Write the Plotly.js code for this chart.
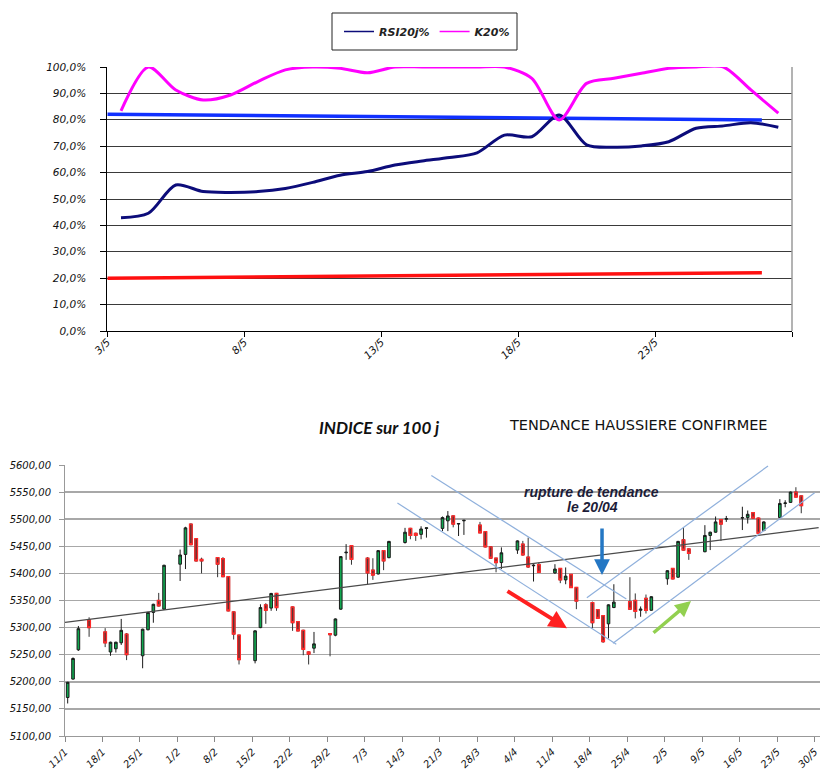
<!DOCTYPE html>
<html><head><meta charset="utf-8">
<script src="https://cdn.plot.ly/plotly-3.0.1.min.js"></script>
<style>html,body{margin:0;padding:0;background:#fff}#chart{width:820px;height:774px}</style>
</head><body><div id="chart"></div>
<script>
// ---------- top chart: RSI / K20 ----------
const rsiDates = ['3/5','4/5','5/5','6/5','7/5','8/5','9/5','10/5','11/5','12/5','13/5','14/5','15/5','16/5','17/5','18/5','19/5','20/5','21/5','22/5','23/5','24/5','25/5','26/5','27/5'];
const rsi = [42.9,44.6,55.3,52.8,52.5,52.8,54.0,56.3,59.0,60.4,62.9,64.4,65.7,67.5,74.2,73.6,81.8,70.5,69.6,70.1,71.7,76.8,77.7,78.9,77.2];
const k20 = [83.4,100,91.3,87.5,89.4,94.5,98.9,100,99.5,97.8,100,100,100,100,100,95.7,79.9,93.8,95.7,97.6,99.5,100,100,91.3,82.5];
const upperTrendIdx = [-0.5, 23.4];
const upperTrend = [82.1, 79.9];
const lowerTrendIdx = [-0.5, 23.4];
const lowerTrend = [20.0, 22.1];

// ---------- bottom chart: index candlesticks ----------
const days = ['2016-01-11','2016-01-12','2016-01-13','2016-01-15','2016-01-18','2016-01-19','2016-01-20','2016-01-21','2016-01-22',
'2016-01-25','2016-01-26','2016-01-27','2016-01-28','2016-01-29','2016-02-01','2016-02-02','2016-02-03','2016-02-04','2016-02-05',
'2016-02-08','2016-02-09','2016-02-10','2016-02-11','2016-02-12','2016-02-15','2016-02-16','2016-02-17','2016-02-18','2016-02-19',
'2016-02-22','2016-02-23','2016-02-24','2016-02-25','2016-02-26','2016-02-29','2016-03-01','2016-03-02','2016-03-03','2016-03-04',
'2016-03-07','2016-03-08','2016-03-09','2016-03-10','2016-03-11','2016-03-14','2016-03-15','2016-03-16','2016-03-17','2016-03-18',
'2016-03-21','2016-03-22','2016-03-23','2016-03-24','2016-03-25','2016-03-28','2016-03-29','2016-03-30','2016-03-31','2016-04-01',
'2016-04-04','2016-04-05','2016-04-06','2016-04-07','2016-04-08','2016-04-11','2016-04-12','2016-04-13','2016-04-14','2016-04-15',
'2016-04-18','2016-04-19','2016-04-20','2016-04-21','2016-04-22','2016-04-25','2016-04-26','2016-04-27','2016-04-28','2016-04-29',
'2016-05-02','2016-05-03','2016-05-04','2016-05-05','2016-05-06','2016-05-09','2016-05-10','2016-05-11','2016-05-12','2016-05-13',
'2016-05-16','2016-05-17','2016-05-18','2016-05-19','2016-05-20','2016-05-23','2016-05-24','2016-05-25','2016-05-26','2016-05-27'];
const open  = [5171,5205,5259,5314,5292,5255,5261,5272,5288, 5248,5296,5328,5350,5334,5417,5435,5491,5464,5426, 5429,5427,5394,5329,5286,5239,5300,5342,5336,5363, 5338,5311,5295,5255,5262,5289,5286,5334,5438,5451, 5428,5406,5399,5442,5429,5457,5483,5474,5472,5483, 5483,5497,5506,5491,5497,5489,5477,5449,5428,5420, 5443,5454,5430,5414,5416,5401,5409,5388,5398,5374, 5346,5333,5322,5307,5337,5348,5350,5332,5354,5332, 5390,5409,5393,5462,5445,5440,5470,5476,5499,5500, 5502,5503,5512,5502,5479,5503,5529,5531,5550,5543];
const high  = [5200,5245,5303,5319,5299,5274,5274,5316,5290, 5298,5329,5344,5364,5416,5444,5486,5492,5465,5429, 5430,5430,5395,5330,5287,5295,5343,5345,5364,5364, 5339,5312,5296,5256,5292,5290,5317,5432,5454,5452, 5430,5428,5443,5443,5460,5484,5484,5475,5487,5484, 5505,5515,5507,5492,5498,5495,5478,5450,5429,5448, 5461,5460,5466,5417,5420,5417,5410,5411,5399,5375, 5348,5334,5323,5343,5380,5393,5363,5339,5361,5358, 5406,5410,5460,5485,5446,5489,5477,5505,5500,5506, 5523,5516,5513,5503,5496,5537,5535,5551,5559,5544];
const low   = [5160,5204,5257,5283,5264,5248,5254,5268,5240, 5225,5295,5309,5339,5333,5386,5408,5452,5422,5400, 5393,5393,5330,5278,5232,5234,5299,5307,5331,5331, 5294,5293,5249,5232,5253,5247,5284,5333,5425,5416, 5380,5388,5398,5406,5428,5455,5463,5460,5463,5466, 5478,5478,5485,5469,5471,5474,5448,5427,5402,5408, 5436,5433,5410,5385,5401,5399,5382,5380,5373,5334, 5299,5316,5272,5280,5336,5333,5317,5320,5326,5331, 5379,5389,5392,5442,5425,5439,5443,5475,5460,5495, 5480,5492,5501,5473,5478,5502,5522,5530,5540,5511];
const close = [5199,5243,5298,5300,5272,5273,5273,5295,5250, 5297,5328,5343,5340,5415,5434,5484,5453,5423,5423, 5417,5394,5331,5288,5241,5294,5337,5332,5363,5337, 5309,5294,5260,5251,5270,5287,5316,5431,5439,5426, 5401,5397,5442,5423,5459,5476,5470,5470,5482,5484, 5503,5506,5491,5492,5498,5475,5449,5428,5420,5438, 5460,5434,5412,5415,5402,5408,5388,5395,5374,5349, 5309,5317,5274,5342,5347,5334,5330,5334,5332,5357, 5405,5390,5459,5443,5437,5470,5476,5495,5491,5501, 5503,5509,5502,5474,5495,5529,5530,5550,5541,5525];

// trend lines drawn on the index chart (start / end)
const trendBase   = {x:['2016-01-11 00:00','2016-05-30 18:00'], y:[5309.8,5484.3]};
const chanDownLow = {x:['2016-03-13 02:00','2016-04-22 23:00'], y:[5529.9,5269.2]};
const chanDownHigh= {x:['2016-03-19 10:00','2016-04-24 20:00'], y:[5580.6,5352.8]};
const chanUpLow   = {x:['2016-04-22 08:00','2016-05-30 00:00'], y:[5271.0,5548.9]};
const chanUpHigh  = {x:['2016-04-17 11:00','2016-05-21 07:00'], y:[5355.2,5598.2]};
// arrow heads (date, value) and tails (pixel offsets)
const arrowBlue  = {x:'2016-04-20 07:00', y:5397, ax:0,   ay:-48};
const arrowRed   = {x:'2016-04-13 18:00', y:5299, ax:-61, ay:-38};
const arrowGreen = {x:'2016-05-06 22:00', y:5349, ax:-39, ay:33};

const noon = days.map(d => d + ' 12:00');
const candleW = 0.64 * 86400000;
const isDown = close.map((c,i) => c < open[i]);
const dIdx = close.map((c,i)=>i).filter(i => isDown[i]);

const axFontTop = {family:'DejaVu Sans', size:10.5, style:'italic', color:'#111'};
const axFontBot = {family:'DejaVu Sans', size:10, style:'italic', color:'#111'};

const traces = [
  {type:'scatter', mode:'lines', x:lowerTrendIdx, y:lowerTrend, xaxis:'x', yaxis:'y', line:{color:'#ff1010', width:3.5}, showlegend:false, hoverinfo:'skip'},
  {type:'scatter', mode:'lines', x:upperTrendIdx, y:upperTrend, xaxis:'x', yaxis:'y', line:{color:'#1030ff', width:3.5}, showlegend:false, hoverinfo:'skip'},
  {type:'scatter', mode:'lines', name:'RSI20j%', x:rsiDates.map((d,i)=>i), y:rsi, xaxis:'x', yaxis:'y', line:{color:'#0c0c7a', width:3, shape:'spline', smoothing:0.8}, showlegend:false, hoverinfo:'skip'},
  {type:'scatter', mode:'lines', name:'K20%', x:rsiDates.map((d,i)=>i), y:k20, xaxis:'x', yaxis:'y', line:{color:'#ff00ff', width:3, shape:'spline', smoothing:0.8}, showlegend:false, hoverinfo:'skip'},
  // legend keys (thin lines, as in the reference legend)
  {type:'scatter', mode:'lines', name:'RSI20j%', x:[null], y:[null], xaxis:'x', yaxis:'y', line:{color:'#0c0c7a', width:1.5}, hoverinfo:'skip'},
  {type:'scatter', mode:'lines', name:'K20%', x:[null], y:[null], xaxis:'x', yaxis:'y', line:{color:'#ff00ff', width:1.5}, hoverinfo:'skip'},
  {type:'candlestick', x:noon, open:open, high:high, low:low, close:close, xaxis:'x2', yaxis:'y2', width:candleW, whiskerwidth:0,
   increasing:{line:{color:'#1a1a1a', width:1}, fillcolor:'#10a850'},
   decreasing:{line:{color:'#333333', width:1}, fillcolor:'#5a3434'}, showlegend:false, hoverinfo:'skip'},
  {type:'candlestick', x:dIdx.map(i=>noon[i]), open:dIdx.map(i=>open[i]), high:dIdx.map(i=>open[i]), low:dIdx.map(i=>close[i]), close:dIdx.map(i=>close[i]),
   xaxis:'x2', yaxis:'y2', width:candleW, whiskerwidth:0,
   increasing:{line:{color:'#ff2a2a', width:1.3}, fillcolor:'#5a3434'},
   decreasing:{line:{color:'#ff2a2a', width:1.3}, fillcolor:'#5a3434'}, showlegend:false, hoverinfo:'skip'},
  {type:'scatter', mode:'lines', x:trendBase.x, y:trendBase.y, xaxis:'x2', yaxis:'y2', line:{color:'#4a4a4a', width:1.3}, showlegend:false, hoverinfo:'skip'},
  {type:'scatter', mode:'lines', x:chanDownLow.x, y:chanDownLow.y, xaxis:'x2', yaxis:'y2', line:{color:'#8fb0dc', width:1.2}, showlegend:false, hoverinfo:'skip'},
  {type:'scatter', mode:'lines', x:chanDownHigh.x, y:chanDownHigh.y, xaxis:'x2', yaxis:'y2', line:{color:'#8fb0dc', width:1.2}, showlegend:false, hoverinfo:'skip'},
  {type:'scatter', mode:'lines', x:chanUpLow.x, y:chanUpLow.y, xaxis:'x2', yaxis:'y2', line:{color:'#8fb0dc', width:1.2}, showlegend:false, hoverinfo:'skip'},
  {type:'scatter', mode:'lines', x:chanUpHigh.x, y:chanUpHigh.y, xaxis:'x2', yaxis:'y2', line:{color:'#8fb0dc', width:1.2}, showlegend:false, hoverinfo:'skip'}
];

const topTickIdx = [-0.5, 4.5, 9.5, 14.5, 19.5, 24.5];
const topTickTxt = topTickIdx.map(v => rsiDates[v + 0.5] || '');

function arrow(a, color, w) {
  return {xref:'x2', yref:'y2', x:a.x, y:a.y, ax:a.ax, ay:a.ay, axref:'pixel', ayref:'pixel',
    text:'', showarrow:true, arrowhead:2, arrowsize:0.9, arrowwidth:w, arrowcolor:color, standoff:0, startstandoff:0};
}
function label(px, py, text, font) {
  return {xref:'paper', yref:'paper', x:px/820, y:1-py/774, xanchor:'center', yanchor:'middle', text:text, showarrow:false, font:font};
}

const layout = {
  width:820, height:774, margin:{l:0, r:0, t:0, b:0},
  paper_bgcolor:'#ffffff', plot_bgcolor:'rgba(0,0,0,0)',
  separators:', ',
  hovermode:false,
  legend:{orientation:'h', x:427/820, xanchor:'center', y:1-31.5/774, yanchor:'middle', borderwidth:0,
    font:{family:'DejaVu Sans', size:11, style:'italic', weight:'bold', color:'#222'}, bgcolor:'rgba(0,0,0,0)'},
  xaxis:{domain:[107.3/820, 792/820], anchor:'y', range:[-0.5, 24.5], tickmode:'array', tickvals:topTickIdx, ticktext:topTickTxt,
    tickangle:-45, ticks:'', showgrid:false, zeroline:false,
    minor:{tickmode:'array', tickvals:topTickIdx, ticks:'outside', ticklen:5, tickcolor:'#000', showgrid:false},
    showline:true, linecolor:'#000', linewidth:1, tickfont:axFontTop},
  yaxis:{domain:[1-331/774, 1-67/774], anchor:'x', range:[0,100], dtick:10, tickformat:'.1f', ticksuffix:'%',
    ticks:'outside', ticklen:6, tickcolor:'#000', gridcolor:'#3a3a3a', gridwidth:1, showline:true, linecolor:'#000',
    zeroline:false, tickfont:axFontTop, ticklabelstandoff:12},
  xaxis2:{domain:[65/820, 1], anchor:'y2', type:'date', range:['2016-01-11','2016-05-31'], tickmode:'linear', tick0:'2016-01-11',
    dtick:7*86400000, tickformat:'%-d/%-m', tickangle:-45, ticks:'outside', ticklen:5, tickcolor:'#888',
    showgrid:false, zeroline:false, showline:true, linecolor:'#999', linewidth:1, rangeslider:{visible:false}, tickfont:axFontBot},
  yaxis2:{domain:[1-736/774, 1-465/774], anchor:'x2', range:[5100,5600], dtick:50, tickformat:'.2f',
    gridcolor:'#a8a8a8', gridwidth:1.5, showline:true, linecolor:'#999', ticks:'outside', ticklen:5, tickcolor:'#999',
    zeroline:false, tickfont:axFontBot, ticklabelstandoff:6},
  shapes:[
    {type:'line', xref:'x domain', yref:'y domain', x0:1, x1:1, y0:0, y1:1, line:{color:'#9a9a9a', width:1.5}},
    {type:'rect', xref:'paper', yref:'paper', x0:332/820, x1:517/820, y0:1-50/774, y1:1-13/774, line:{color:'#222', width:1}, fillcolor:'rgba(0,0,0,0)'}
  ],
  annotations:[
    label(379, 428, 'INDICE sur 100 j', {family:'Lato', size:17, style:'italic', weight:'bold', color:'#111'}),
    label(638, 425, 'TENDANCE HAUSSIERE CONFIRMEE', {family:'DejaVu Sans', size:14.5, color:'#111'}),
    label(591, 492, 'rupture de tendance', {family:'Liberation Sans', size:14, style:'italic', weight:'bold', color:'#1c1c38'}),
    label(592, 507, 'le 20/04', {family:'Liberation Sans', size:14, style:'italic', weight:'bold', color:'#1c1c38'}),
    arrow(arrowBlue, '#2477c4', 3.5),
    arrow(arrowRed, '#ff2020', 4),
    arrow(arrowGreen, '#92d050', 3.5)
  ]
};

Plotly.newPlot('chart', traces, layout, {staticPlot:true, displayModeBar:false});
</script></body></html>
